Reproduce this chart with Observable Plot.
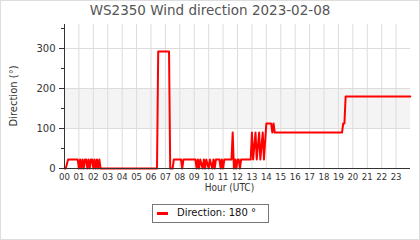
<!DOCTYPE html>
<html>
<head>
<meta charset="utf-8">
<script src="https://cdn.jsdelivr.net/npm/d3@7"></script>
<script src="https://cdn.jsdelivr.net/npm/@observablehq/plot@0.6"></script>
<style>
  html, body { margin: 0; padding: 0; background: #fff; }
  #wrap { position: relative; width: 420px; height: 240px; overflow: hidden; background: #fff; font-family: "DejaVu Sans", sans-serif; }
  #frame { position: absolute; left: 0; top: 0; width: 420px; height: 240px; box-sizing: border-box; border: 1px solid #dddddd; pointer-events: none; }
  #title { position: absolute; left: 0; top: 4px; width: 420px; text-align: center; font-size: 13.5px; line-height: 13.5px; color: #555; white-space: nowrap; }
  #chart { position: absolute; left: 0; top: 20px; }
  .axt { position: absolute; white-space: nowrap; font-size: 10px; line-height: 12px; color: #333; transform-origin: 50% 50%; }
  #ytitle { left: 14px; top: 96px; transform: translate(-50%, -50%) rotate(-90deg); }
  #xtitle { left: 229.5px; top: 188px; transform: translate(-50%, -50%); font-family: 'Liberation Sans Narrow', 'DejaVu Sans Condensed', 'DejaVu Sans', sans-serif; }
  #legend { position: absolute; left: 152px; top: 204px; width: 117px; height: 19px; box-sizing: border-box; border: 1px solid #777; }
  #legend .sw { position: absolute; left: 4px; top: 7px; width: 11px; height: 3px; background: #ff0000; }
  #legend .lt { position: absolute; left: 24px; top: 2px; font-size: 10px; line-height: 12px; color: #111; white-space: nowrap; }
</style>
</head>
<body>
<div id="wrap">
  <div id="title"></div>
  <div id="chart"></div>
  <div id="ytitle" class="axt"></div>
  <div id="xtitle" class="axt"></div>
  <div id="legend"><div class="sw"></div><div class="lt"></div></div>
  <div id="frame"></div>
</div>
<script>
const chartTitle = "WS2350 Wind direction 2023-02-08";
const xTitle = "Hour (UTC)";
const yTitle = "Direction (°)";
const legendLabel = "Direction: 180 °";

const hourLabels = ["00","01","02","03","04","05","06","07","08","09","10","11",
                    "12","13","14","15","16","17","18","19","20","21","22","23"];
const yTickLabels = [0, 100, 200, 300];
const yMinorTicks = [50, 150, 250, 350];
const yDomain = [0, 360];
const xDomain = [0, 24];
const shadedBand = [100, 200];

const times = [
  "00:00","00:05","00:15","00:55","01:00","01:05","01:10","01:15","01:20","01:25",
  "01:30","01:35","01:40","01:45","01:50","01:55","02:00","02:05","02:10","02:15",
  "02:20","02:25","02:30","06:25","06:30","07:15","07:20","07:30","07:35","08:05",
  "08:10","08:15","09:05","09:10","09:15","09:20","09:25","09:35","09:40","09:45",
  "09:50","10:00","10:05","10:15","10:20","10:25","10:30","10:45","10:50","10:55",
  "11:00","11:05","11:10","11:35","11:40","11:45","11:50","11:55","12:00","12:05",
  "12:10","12:15","12:55","13:00","13:05","13:15","13:20","13:30","13:35","13:45",
  "13:50","14:00","14:20","14:25","14:30","14:35","19:15","19:20","19:25","19:30",
  "23:59"
];
const directions = [
  0, 0, 22.5, 22.5, 0, 22.5, 0, 22.5, 0, 22.5,
  22.5, 0, 22.5, 0, 22.5, 22.5, 0, 22.5, 0, 22.5,
  0, 22.5, 0, 0, 292.5, 292.5, 0, 0, 22.5, 22.5,
  0, 22.5, 22.5, 0, 22.5, 0, 22.5, 0, 22.5, 0,
  22.5, 0, 22.5, 0, 22.5, 0, 22.5, 22.5, 0, 22.5,
  0, 22.5, 22.5, 22.5, 90, 0, 22.5, 0, 22.5, 22.5,
  0, 22.5, 22.5, 90, 22.5, 90, 22.5, 90, 22.5, 90,
  22.5, 112.5, 112.5, 90, 112.5, 90, 90, 112.5, 112.5, 180,
  180
];

const toHours = t => +t.slice(0, 2) + (+t.slice(3)) / 60;
const data = times.map((t, i) => ({h: toHours(t), d: directions[i]}));

document.getElementById("title").textContent = chartTitle;
document.getElementById("ytitle").textContent = yTitle;
document.getElementById("xtitle").textContent = xTitle;
document.querySelector("#legend .lt").textContent = legendLabel;

const narrow = "'Liberation Sans Narrow', 'DejaVu Sans Condensed', 'DejaVu Sans', sans-serif";

const chart = Plot.plot({
  width: 420,
  height: 176,
  marginLeft: 64,
  marginRight: 10,
  marginTop: 4,
  marginBottom: 28,
  style: {fontFamily: "DejaVu Sans, sans-serif", fontSize: "10px", background: "transparent", color: "#333"},
  x: {domain: xDomain, axis: null},
  y: {domain: yDomain, axis: null},
  marks: [
    Plot.rect([shadedBand], {y1: d => d[0], y2: d => d[1], fill: "#f4f4f4"}),
    Plot.ruleX(hourLabels, {x: d => +d, stroke: "#dcdcdc", strokeWidth: 1}),
    Plot.ruleY(yTickLabels.filter(v => v > 0), {y: d => d, stroke: "#dcdcdc", strokeWidth: 1}),
    Plot.line(data, {x: "h", y: "d", stroke: "#ff0000", strokeWidth: 2}),
    Plot.ruleX([xDomain[0]], {stroke: "#333"}),
    Plot.ruleY([yDomain[0]], {stroke: "#333"}),
    Plot.axisY(yTickLabels, {tickSize: 5, tickPadding: 4, label: null, stroke: "#333", fill: "#333", fontSize: 10}),
    Plot.axisY(yMinorTicks, {tickSize: 3, text: null, label: null, stroke: "#333"}),
    Plot.axisX(hourLabels.map(Number), {tickSize: 0, tickPadding: 5, label: null, tickFormat: d => hourLabels[d],
      fill: "#333", fontSize: 9.5, fontFamily: narrow})
  ]
});
document.getElementById("chart").appendChild(chart);
</script>
</body>
</html>
